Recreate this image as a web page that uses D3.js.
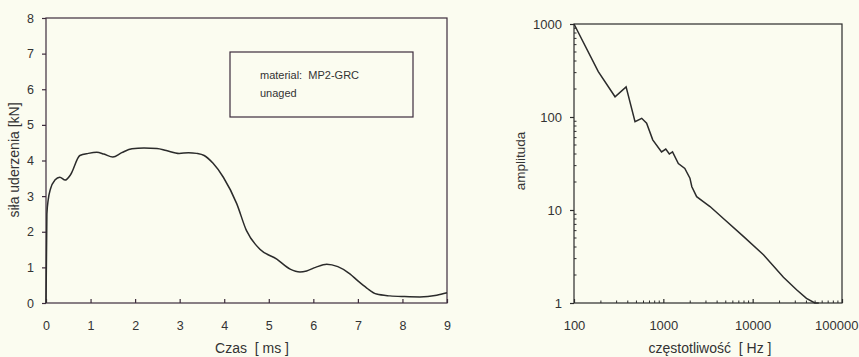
<!DOCTYPE html>
<html>
<head>
<meta charset="utf-8">
<script src="https://cdn.jsdelivr.net/npm/d3@7"></script>
<style>
  body { margin: 0; background: #fbfcf0; }
  svg { display: block; font-family: "Liberation Sans", Arial, sans-serif; }
</style>
</head>
<body>
<svg id="canvas" width="859" height="357"></svg>
<script>
// left chart: force vs time
const timeMs = [0, 0.02, 0.05, 0.1, 0.2, 0.31, 0.43, 0.55, 0.76, 0.95, 1.14, 1.3, 1.5, 1.7, 1.93, 2.2, 2.49, 2.7, 2.99, 3.2, 3.38, 3.55, 3.75, 3.98, 4.28, 4.5, 4.8, 5.18, 5.48, 5.7, 5.85, 6.05, 6.3, 6.55, 6.82, 7.0, 7.2, 7.42, 7.72, 8.05, 8.39, 8.77, 9.0];
const forceKN = [0, 2.5, 2.9, 3.2, 3.45, 3.53, 3.45, 3.6, 4.14, 4.2, 4.23, 4.18, 4.1, 4.22, 4.33, 4.35, 4.34, 4.28, 4.2, 4.22, 4.2, 4.14, 3.92, 3.53, 2.79, 2.03, 1.51, 1.23, 0.95, 0.87, 0.9, 1.0, 1.09, 1.02, 0.82, 0.62, 0.42, 0.25, 0.2, 0.18, 0.17, 0.22, 0.29];
const timeTicks = [0, 1, 2, 3, 4, 5, 6, 7, 8, 9];
const forceTicks = [0, 1, 2, 3, 4, 5, 6, 7, 8];

// right chart: amplitude spectrum
const freqHz = [100, 187, 288, 383, 482, 573, 650, 761, 955, 1065, 1167, 1267, 1472, 1740, 1985, 2085, 2360, 2800, 3330, 4700, 7870, 13200, 22100, 31000, 40000, 49600, 55000];
const amplitude = [1000, 307, 165, 211, 89, 96.8, 85.9, 56.8, 42.1, 45.2, 40, 42.1, 31.6, 28, 22, 17.8, 13.9, 12.3, 10.9, 8.1, 5.2, 3.3, 1.89, 1.39, 1.12, 1.0, 1.0];
const freqTicks = [100, 1000, 10000, 100000];
const ampTicks = [1, 10, 100, 1000];

const svg = d3.select("#canvas");
const ink = "#2b2b2b";
const frame = "#3d2c3c";

// ---------- left chart ----------
const L = { x0: 46, x1: 447, y0: 18, y1: 303 };
const xT = d3.scaleLinear().domain([0, 9]).range([L.x0, L.x1]);
const yF = d3.scaleLinear().domain([0, 8]).range([L.y1, L.y0]);

const left = svg.append("g");
left.append("rect")
  .attr("x", L.x0).attr("y", L.y0)
  .attr("width", L.x1 - L.x0).attr("height", L.y1 - L.y0)
  .attr("fill", "none").attr("stroke", frame).attr("stroke-width", 1.2);

const axB = left.append("g").attr("transform", `translate(0,${L.y1})`)
  .call(d3.axisBottom(xT).tickValues(timeTicks).tickSize(-4).tickPadding(18).tickFormat(d3.format("d")));
const axL = left.append("g").attr("transform", `translate(${L.x0},0)`)
  .call(d3.axisLeft(yF).tickValues(forceTicks).tickSize(4).tickPadding(8).tickFormat(d3.format("d")));
[axB, axL].forEach(a => {
  a.select(".domain").remove();
  a.selectAll("line").attr("stroke", frame).attr("stroke-width", 1.2);
  a.selectAll("text").attr("fill", "#333").style("font-size", "12.5px");
});

left.append("path")
  .datum(timeMs.map((t, i) => [t, forceKN[i]]))
  .attr("fill", "none").attr("stroke", ink).attr("stroke-width", 1.5)
  .attr("d", d3.line().x(d => xT(d[0])).y(d => yF(d[1])).curve(d3.curveMonotoneX));

left.append("rect")
  .attr("x", 230).attr("y", 52).attr("width", 183).attr("height", 65)
  .attr("fill", "none").attr("stroke", frame).attr("stroke-width", 1.2);
left.append("text").attr("x", 260).attr("y", 79)
  .attr("fill", "#333").style("font-size", "11px").attr("xml:space", "preserve")
  .text("material:  MP2-GRC");
left.append("text").attr("x", 260).attr("y", 97)
  .attr("fill", "#333").style("font-size", "11px").text("unaged");

left.append("text").attr("x", 252).attr("y", 353).attr("text-anchor", "middle")
  .attr("fill", "#333").style("font-size", "14px").attr("xml:space", "preserve")
  .text("Czas  [ ms ]");
left.append("text")
  .attr("transform", "translate(19,160) rotate(-90)").attr("text-anchor", "middle")
  .attr("fill", "#333").style("font-size", "14px")
  .text("siła uderzenia [kN]");

// ---------- right chart ----------
const R = { x0: 574, x1: 842, y0: 24, y1: 303 };
const xF = d3.scaleLog().domain([100, 100000]).range([R.x0, R.x1]);
const yA = d3.scaleLog().domain([1, 1000]).range([R.y1, R.y0]);

const right = svg.append("g");
right.append("rect")
  .attr("x", R.x0).attr("y", R.y0)
  .attr("width", R.x1 - R.x0).attr("height", R.y1 - R.y0)
  .attr("fill", "none").attr("stroke", ink).attr("stroke-width", 1.2);

const minorX = xF.ticks().filter(d => !freqTicks.includes(d));
const minorY = yA.ticks().filter(d => !ampTicks.includes(d));

right.append("g").selectAll("line").data(minorX).join("line")
  .attr("x1", d => xF(d)).attr("x2", d => xF(d))
  .attr("y1", R.y1).attr("y2", R.y1 - 2.5)
  .attr("stroke", ink).attr("stroke-width", 1);
right.append("g").selectAll("line").data(minorY).join("line")
  .attr("y1", d => yA(d)).attr("y2", d => yA(d))
  .attr("x1", R.x0).attr("x2", R.x0 + 2.5)
  .attr("stroke", ink).attr("stroke-width", 1);

const rB = right.append("g").attr("transform", `translate(0,${R.y1})`)
  .call(d3.axisBottom(xF).tickValues(freqTicks).tickSize(-4).tickPadding(18).tickFormat(d3.format("d")));
const rL = right.append("g").attr("transform", `translate(${R.x0},0)`)
  .call(d3.axisLeft(yA).tickValues(ampTicks).tickSize(4).tickPadding(8).tickFormat(d3.format("d")));
[rB, rL].forEach(a => {
  a.select(".domain").remove();
  a.selectAll("line").attr("stroke", ink).attr("stroke-width", 1.2);
  a.selectAll("text").attr("fill", "#333").style("font-size", "13px");
});
// the last frequency label sits at the page edge, so it ends there
rB.selectAll(".tick text").filter(d => d === 100000)
  .attr("text-anchor", "end").attr("x", 858 - R.x1);

right.append("path")
  .datum(freqHz.map((f, i) => [f, amplitude[i]]))
  .attr("fill", "none").attr("stroke", ink).attr("stroke-width", 1.5)
  .attr("d", d3.line().x(d => xF(d[0])).y(d => yA(d[1])));

right.append("text").attr("x", 710).attr("y", 353).attr("text-anchor", "middle")
  .attr("fill", "#333").style("font-size", "14px").attr("xml:space", "preserve")
  .text("częstotliwość  [ Hz ]");
right.append("text")
  .attr("transform", "translate(525,161) rotate(-90)").attr("text-anchor", "middle")
  .attr("fill", "#333").style("font-size", "13.5px")
  .text("amplituda");
</script>
</body>
</html>
